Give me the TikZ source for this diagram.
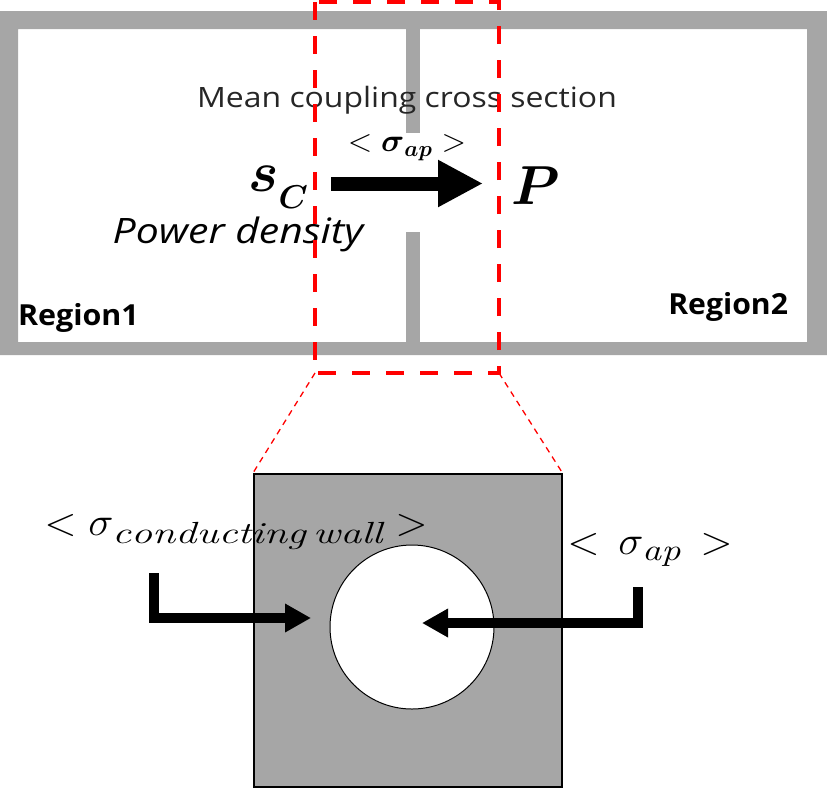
\documentclass[tikz,border=0pt]{standalone}
\usepackage{amsmath}
\usepackage{graphicx}
\usepackage{fontspec}
\setsansfont{Open Sans}
\usetikzlibrary{arrows.meta}
\definecolor{wallgray}{HTML}{A6A6A6}
\definecolor{zoomred}{HTML}{FF0000}
\newcommand{\widesub}[2]{\scalebox{#1}[1.1]{$\scriptstyle\mathit{#2}$}}
\tikzset{
  wall/.style={fill=wallgray, draw=none},
  zoombox/.style={draw=zoomred, line width=4pt, dash pattern=on 18pt off 16pt},
  zoomline/.style={draw=zoomred, line width=1.3pt, dash pattern=on 6pt off 5pt},
  bigarrow/.style={line width=14pt, -{Triangle[length=45pt,width=44pt]}},
  bentarrow/.style={line width=10pt, line join=miter, -{Triangle[length=26pt,width=27pt]}},
  lbl/.style={inner sep=0pt, outer sep=0pt},
  mathlbl/.style={lbl, font=\fontsize{20.74}{25}\selectfont},
}
\begin{document}
\begin{tikzpicture}[x=1pt,y=-1pt]
\useasboundingbox (0,0) rectangle (827,788);
% outer frame
\fill[wallgray, even odd rule] (0,11) rectangle (827,355) (18,29) rectangle (807,342);
\fill[wall] (406,29) rectangle (420,133);
\fill[wall] (406,232) rectangle (420,342);
% texts top
\node[lbl, font=\sffamily\fontsize{28}{32}\selectfont, text=black!85, xscale=1.14] (mean) at (407,100) {Mean coupling cross section};
\node[mathlbl, scale=1.55] (sap) at (407,148) {$<\boldsymbol{\sigma}_{\boldsymbol{ap}}>$};
\node[mathlbl, scale=2.75, anchor=east] (sc) at (308,187) {$\boldsymbol{s}$\raisebox{-0.3em}{\fontsize{12.5}{13}\selectfont$\boldsymbol{C}$}};
\node[mathlbl, scale=2.65] (P) at (536,186) {$\boldsymbol{P}$};
\coordinate (a1) at (331,183.5);
\coordinate (a2) at (483,183.5);
\draw[bigarrow] (a1) -- (a2);
\node[lbl, font=\sffamily\itshape\fontsize{35}{40}\selectfont, xscale=1.17] (pd) at (238,234) {Power density};
\node[lbl, font=\sffamily\bfseries\fontsize{29}{34}\selectfont, xscale=1.05, anchor=west] (r1) at (18,318) {Region1};
\node[lbl, font=\sffamily\bfseries\fontsize{29}{34}\selectfont, xscale=1.04, anchor=east] (r2) at (788,307) {Region2};
% zoom box
\draw[zoombox] (315,2) rectangle (499,373);
% detail
\node[draw=black, line width=1.5pt, fill=wallgray, minimum width=308pt, minimum height=313pt, inner sep=0pt, anchor=north west] (plate) at (253,473) {};
\draw[zoomline] (315,373) -- (plate.north west);
\draw[zoomline] (499,373) -- (plate.north east);
\node[circle, draw=black, line width=1pt, fill=white, minimum size=164pt, inner sep=0pt] (hole) at (412,627) {};
\coordinate (l0) at (153.5,573);
\coordinate (l1) at (153.5,618);
\coordinate (l2) at (311,618);
\draw[bentarrow] (l0) -- (l1) -- (l2);
\coordinate (r0) at (637.5,587);
\coordinate (r1c) at (637.5,623);
\coordinate (r2c) at (422,623);
\draw[bentarrow] (r0) -- (r1c) -- (r2c);
\node[mathlbl, scale=1.93, xscale=1.06] (scw) at (236,532) {$<\sigma_{\widesub{1.43}{conducting\,wall}}>$};
\node[mathlbl, scale=1.93, xscale=1.06] (sap2) at (650,550) {$<\,\sigma_{\widesub{1.3}{ap}}\,>$};
\end{tikzpicture}
\end{document}
